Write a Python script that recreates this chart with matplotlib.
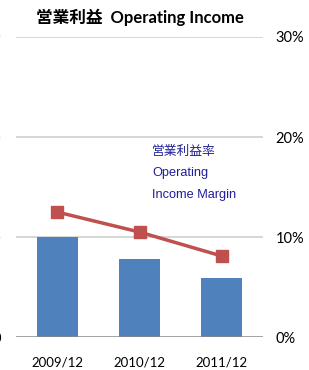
import matplotlib.pyplot as plt
import numpy as np

plt.rcParams['font.family'] = ['Lato', 'Noto Sans CJK JP', 'DejaVu Sans']

years = ['2009/12', '2010/12', '2011/12']
income = [100, 78, 59]          # left axis (units cut off in reference)
margin = [12.5, 10.5, 8.1]      # % right axis
left_ticks = [0, 100, 200, 300]
right_ticks = [0, 10, 20, 30]

fig = plt.figure(figsize=(3.09, 3.70), dpi=100)
ax = fig.add_axes([0.052, 0.089, 0.799, 0.811])
x = np.arange(len(years))

ax.bar(x, income, width=0.5, color='#4f81bd', zorder=3)
ax.set_xlim(-0.5, 2.5)
ax.set_ylim(0, 300)
ax.set_yticks(left_ticks)
for t in left_ticks[1:]:
    ax.axhline(t, color='#d0d0d0', lw=1.2, zorder=1)
ax.axhline(0, color='#888888', lw=1.8, zorder=4)
for s in ax.spines.values():
    s.set_visible(False)
ax.set_xticks(x)
ax.set_xticklabels(years, fontsize=9.5)
ax.tick_params(axis='x', length=0, pad=14)
ax.tick_params(axis='y', length=0, pad=11, labelsize=10.5)
ax.set_yticklabels([f'{t}' for t in left_ticks])

ax2 = ax.twinx()
ax2.plot(x, margin, color='#c0504d', lw=2.5, marker='s', ms=8, zorder=5)
ax2.set_ylim(0, 30)
ax2.set_yticks(right_ticks)
ax2.set_yticklabels([f'{t}%' for t in right_ticks], fontsize=10.5)
ax2.tick_params(axis='y', length=0, pad=9)
for s in ax2.spines.values():
    s.set_visible(False)

fig.text(140 / 309, 0.953, '営業利益  Operating Income', ha='center', va='center',
         fontsize=12, fontweight='bold')
for yy, txt in [(152, '営業利益率'), (173, 'Operating'), (195, 'Income Margin')]:
    fig.text(152 / 309, 1 - yy / 370, txt, ha='left', va='center',
             fontsize=9.2, color='#1f1f99',
             family=['Liberation Sans', 'Noto Sans CJK JP'])

fig.savefig('out.png', dpi=100)
